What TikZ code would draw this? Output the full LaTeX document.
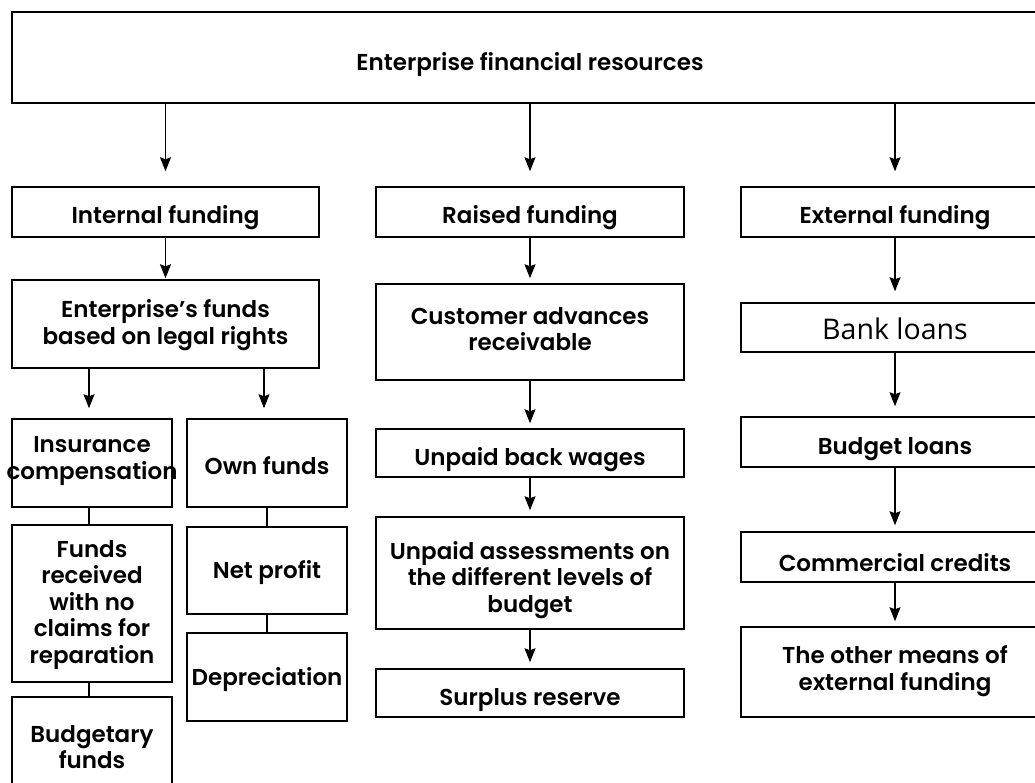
\documentclass[tikz,border=0pt]{standalone}
\usepackage{fontspec}
\usetikzlibrary{arrows.meta}
\newfontfamily\boxfont{Poppins SemiBold}
\newfontfamily\plainfont{Open Sans}
\begin{document}
\begin{tikzpicture}[x=1pt,y=-1pt,
  box/.style={draw=black,line width=1.5pt,inner sep=0pt,fill=white},
  lbl/.style={font=\boxfont\fontsize{23}{26.5}\selectfont,align=center,inner sep=0pt,text=black,yshift=-3pt},
  arr/.style={line width=1.1pt,-{Stealth[length=14pt,width=11pt,inset=2pt]}},
  link/.style={line width=1.1pt}]
\useasboundingbox (0,0) rectangle (1035,783);
\clip (0,0) rectangle (1035,783);
% boxes: name, centre x, centre y, width, height
\newcommand\mkbox[5]{%
  \node[box,minimum width=#4,minimum height=#5] (#1) at (#2,#3) {};}
\mkbox{top}{530}{57.5}{1036}{91}
\mkbox{int}{165.5}{212}{307}{50}
\mkbox{rai}{530}{212}{308}{50}
\mkbox{ext}{895}{212}{308}{50}
\mkbox{efu}{165.5}{324}{307}{88}
\mkbox{ins}{92}{463}{160}{88}
\mkbox{own}{267}{463}{160}{88}
\mkbox{frc}{92}{603.5}{160}{157}
\mkbox{bud}{92}{744}{160}{94}
\mkbox{net}{267}{570.5}{160}{87}
\mkbox{dep}{267}{677}{160}{88}
\mkbox{cus}{530}{332}{308}{96}
\mkbox{wag}{530}{453}{308}{48}
\mkbox{ass}{530}{573}{308}{112}
\mkbox{sur}{530}{693}{308}{48}
\mkbox{ban}{895}{327.5}{308}{49}
\mkbox{bln}{895}{442}{308}{50}
\mkbox{com}{895}{557}{308}{50}
\mkbox{oth}{895}{672}{308}{90}
% box texts
\node[lbl] (top-t) at (530,62) {Enterprise financial resources};
\node[lbl] (int-t) at (165.5,215) {Internal funding};
\node[lbl] (rai-t) at (530,215) {Raised funding};
\node[lbl] (ext-t) at (895,215) {External funding};
\node[lbl] (efu-t) at (165.5,322) {Enterprise’s funds\\based on legal rights};
\node[lbl] (ins-t) at (92,458) {Insurance\\\makebox[140pt][c]{compensation}};
\node[lbl] (own-t) at (267,463) {Own funds};
\node[lbl] (frc-t) at (92,602) {Funds\\received\\with no\\claims for\\reparation};
\node[lbl] (bud-t) at (92,744) {Budgetary\\funds};
\node[lbl] (net-t) at (267,570) {Net profit};
\node[lbl] (dep-t) at (267,677) {Depreciation};
\node[lbl] (cus-t) at (530,326) {Customer advances\\receivable};
\node[lbl] (wag-t) at (530,457) {Unpaid back wages};
\node[lbl] (ass-t) at (530,577) {Unpaid assessments on\\the different levels of\\budget};
\node[lbl] (sur-t) at (530,697) {Surplus reserve};
\node[lbl,yshift=3pt,font=\plainfont\fontsize{28.5}{32}\selectfont] (ban-t) at (895,329) {Bank loans};
\node[lbl] (bln-t) at (895,446) {Budget loans};
\node[lbl] (com-t) at (895,560) {Commercial credits};
\node[lbl] (oth-t) at (895,668) {The other means of\\external funding};
% arrows
\draw[arr] (int.north |- top.south) -- ([yshift=15pt]int.north);
\draw[arr] (rai.north |- top.south) -- ([yshift=15pt]rai.north);
\draw[arr] (ext.north |- top.south) -- ([yshift=15pt]ext.north);
\draw[arr] (int.south) -- ([yshift=1pt]efu.north);
\draw[arr] ([xshift=-3pt]ins.north |- efu.south) -- ([xshift=-3pt,yshift=10pt]ins.north);
\draw[arr] ([xshift=-3pt]own.north |- efu.south) -- ([xshift=-3pt,yshift=10pt]own.north);
\draw[link] ([xshift=-3pt]ins.south) -- ([xshift=-3pt]frc.north);
\draw[link] ([xshift=-3pt]frc.south) -- ([xshift=-3pt]bud.north);
\draw[link] (own.south) -- (net.north);
\draw[link] (net.south) -- (dep.north);
\draw[arr] (rai.south) -- ([yshift=5pt]cus.north);
\draw[arr] (cus.south) -- ([yshift=5pt]wag.north);
\draw[arr] (wag.south) -- ([yshift=6pt]ass.north);
\draw[arr] (ass.south) -- ([yshift=6pt]sur.north);
\draw[arr] (ext.south) -- ([yshift=11pt]ban.north);
\draw[arr] (ban.south) -- ([yshift=10pt]bln.north);
\draw[arr] (bln.south) -- ([yshift=6pt]com.north);
\draw[arr] (com.south) -- ([yshift=5pt]oth.north);
\end{tikzpicture}
\end{document}
